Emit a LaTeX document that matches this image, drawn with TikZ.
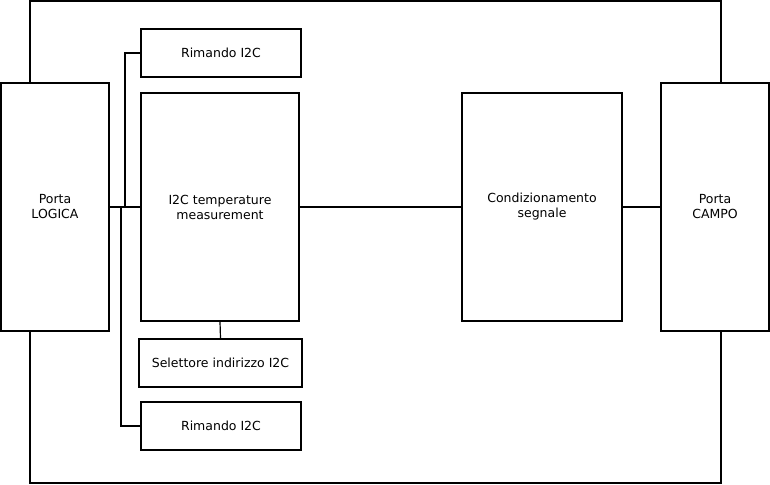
\documentclass[tikz,border=0pt]{standalone}
\usepackage{fontspec}
\setmainfont{DejaVu Sans}
\usepackage{tikz}
\usetikzlibrary{positioning}

\begin{document}
\begin{tikzpicture}[x = 1pt, y = -1pt, line width = 1.2pt,
  blk/.style = {draw, fill = white, align = center, inner sep = 0pt, font = \fontsize{12.5}{15}\selectfont}]
\useasboundingbox (0,0) rectangle (770,484);
\draw (30,1) rectangle (721,483);
\node[blk, minimum width = 108pt, minimum height = 248pt] (logica) at (55,207) {Porta\\LOGICA};
\node[blk, minimum width = 160pt, minimum height = 48pt] (rimtop) at (221,53) {Rimando I2C};
\node[blk, minimum width = 158pt, minimum height = 228pt] (temp) at (220,207) {I2C temperature\\measurement};
\node[blk, minimum width = 163pt, minimum height = 48pt] (sel) at (220.5,363) {Selettore indirizzo I2C};
\node[blk, minimum width = 160pt, minimum height = 48pt] (rimbot) at (221,426) {Rimando I2C};
\node[blk, minimum width = 160pt, minimum height = 228pt] (cond) at (542,207) {Condizionamento\\segnale};
\node[blk, minimum width = 108pt, minimum height = 248pt] (campo) at (715,207) {Porta\\CAMPO};
\coordinate (jtop) at (125,207);
\coordinate (jbot) at (121,207);
\draw (logica.east) -- (temp.west);
\draw (jtop) |- (rimtop.west);
\draw (jbot) |- (rimbot.west);
\draw (temp.south) -- (sel.north);
\draw (temp.east) -- (cond.west);
\draw (cond.east) -- (campo.west);
\end{tikzpicture}
\end{document}
